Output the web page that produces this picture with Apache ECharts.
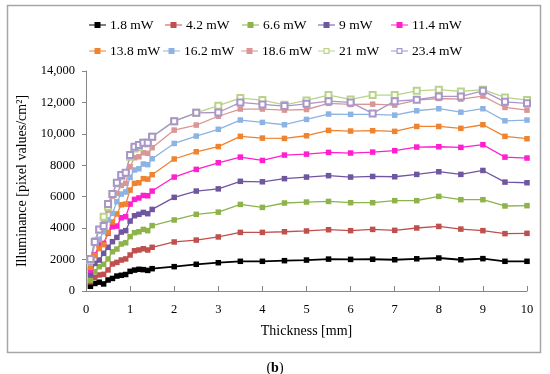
<!DOCTYPE html>
<html>
<head>
<meta charset="utf-8">
<script src="https://cdn.jsdelivr.net/npm/echarts@6/dist/echarts.min.js"></script>
<style>html,body{margin:0;padding:0;background:#fff;}#c{width:550px;height:374px;}</style>
</head>
<body>
<div id="c"></div>
<script>
// Thickness [mm]
var thickness = [0.1,0.2,0.3,0.4,0.5,0.6,0.7,0.8,0.9,1.0,1.1,1.2,1.3,1.4,1.5,
  2,2.5,3,3.5,4,4.5,5,5.5,6,6.5,7,7.5,8,8.5,9,9.5,10];
var seriesNames = ['1.8 mW','4.2 mW','6.6 mW','9 mW','11.4 mW','13.8 mW','16.2 mW','18.6 mW','21 mW','23.4 mW'];
var p1_8  = [300,480,560,450,700,800,950,1000,1050,1250,1330,1380,1360,1310,1420,1550,1700,1800,1890,1890,1930,1970,2030,2010,2020,1990,2050,2100,1990,2060,1890,1890];
var p4_2  = [590,870,1020,1060,1340,1720,1820,1970,2040,2290,2560,2610,2690,2610,2780,3120,3240,3440,3730,3730,3770,3820,3900,3840,3920,3860,4010,4110,3940,3840,3650,3670];
var p6_6  = [700,1230,1550,1700,2040,2500,2670,2990,3070,3460,3710,3770,3920,3840,4160,4520,4880,5020,5510,5320,5600,5660,5700,5620,5620,5750,5750,6020,5810,5810,5410,5430];
var p9    = [1020,1760,1970,2400,2780,3140,3410,3750,3840,4450,4790,4880,5000,4920,5190,5960,6360,6500,6980,6950,7150,7250,7340,7250,7290,7270,7420,7590,7420,7670,6930,6890];
var p11_4 = [1340,2290,2930,3030,3670,4090,4130,4660,4730,5530,5830,5920,6080,6060,6360,7250,7740,8160,8520,8310,8650,8710,8820,8780,8840,8930,9160,9180,9140,9310,8520,8460];
var p13_8 = [1500,2250,2700,2950,3710,4390,4900,5490,5530,6420,6850,6890,7150,7120,7400,8400,8860,9190,9840,9730,9710,9880,10220,10180,10200,10160,10470,10470,10350,10580,9840,9690];
var p16_2 = [1760,3030,3290,3770,4520,4940,5680,6170,6300,7230,7700,7780,8080,8040,8420,9390,9860,10290,10880,10730,10580,10920,11260,11240,11240,11190,11470,11600,11380,11600,10830,10880];
var p18_6 = [1870,3240,3880,4300,5150,6040,6210,6720,6850,7910,8480,8540,8800,8760,9120,10240,10560,11120,11580,11580,11510,11550,11940,11870,11890,11830,12150,12250,12210,12400,11680,11510];
var p21   = [1970,3140,3880,4730,5360,6170,6850,7310,7480,8540,9070,9140,9430,9390,9820,10810,11340,11790,12280,12150,11850,12130,12470,12190,12470,12470,12740,12810,12700,12810,12320,12150];
var p23_4 = [2040,3120,3920,4130,5530,6170,6890,7380,7530,8650,9180,9290,9430,9430,9820,10810,11340,11360,12000,11870,11770,11910,12080,12000,11300,12080,12170,12380,12380,12740,12040,11940];
var yTicks = [0,2000,4000,6000,8000,10000,12000,14000];

var values = [p1_8,p4_2,p6_6,p9,p11_4,p13_8,p16_2,p18_6,p21,p23_4];
var colors = ['#000000','#C0504D','#8DB34A','#7055A0','#FF1FCF','#EE8330','#8DB3E2','#DA9694','#B9D38A','#A996C9'];
var hollow = [false,false,false,false,false,false,false,false,true,true];
var FONT = 'Liberation Serif';

var ICON_FILLED = 'path://M0,2.4H17V3.6H0Z M5.5,0H11.5V6H5.5Z';
var ICON_HOLLOW = 'path://M0,2.4H5.5V3.6H0Z M11.5,2.4H17V3.6H11.5Z M5.5,0H11.5V6H5.5Z M6.7,1.2V4.8H10.3V1.2Z';

var series = values.map(function(arr, i){
  return {
    name: seriesNames[i],
    type: 'line',
    data: thickness.map(function(x, j){ return [x, arr[j]]; }),
    symbol: hollow[i] ? 'emptyRect' : 'rect',
    symbolSize: hollow[i] ? 6 : 5.5,
    lineStyle: {color: colors[i], width: i === 0 ? 1.8 : 1.3},
    itemStyle: {color: colors[i], borderWidth: hollow[i] ? 1.2 : 0},
    emphasis: {disabled: true},
    animation: false
  };
});

var colLeft = [[89,165,242,318,391],[89,163,241,318,391]];
var legends = seriesNames.map(function(n, i){
  var row = i < 5 ? 0 : 1, col = i % 5;
  return {
    data: [{name: n, icon: hollow[i] ? ICON_HOLLOW : ICON_FILLED, itemStyle: {color: colors[i], borderWidth: 0}}],
    left: colLeft[row][col], top: row === 0 ? 18 : 44,
    padding: 0, itemWidth: 17, itemHeight: 6, itemGap: 0,
    itemStyle: {borderWidth: 0},
    lineStyle: {width: 0},
    textStyle: {fontFamily: FONT, fontSize: 13.5, color: '#000', padding: [0,0,0,-1]},
    selectedMode: false
  };
});

var chart = echarts.init(document.getElementById('c'), null, {renderer: 'canvas'});
chart.setOption({
  backgroundColor: '#fff',
  animation: false,
  legend: legends,
  grid: {left: 86, right: 23, top: 71, bottom: 83},
  xAxis: {
    type: 'value', min: 0, max: 10, interval: 1,
    name: 'Thickness [mm]', nameLocation: 'middle', nameGap: 33,
    nameTextStyle: {fontFamily: FONT, fontSize: 14, color: '#000'},
    axisLine: {lineStyle: {color: '#868686', width: 1}},
    axisTick: {inside: true, length: 5, lineStyle: {color: '#868686'}},
    axisLabel: {fontFamily: FONT, fontSize: 12.5, color: '#000', margin: 12},
    splitLine: {show: false}
  },
  yAxis: {
    type: 'value', min: yTicks[0], max: yTicks[yTicks.length-1], interval: 2000,
    name: 'Illuminance [pixel values/cm²]', nameLocation: 'middle', nameGap: 46, nameRotate: 90,
    nameTextStyle: {fontFamily: FONT, fontSize: 14, color: '#000'},
    axisLine: {show: true, lineStyle: {color: '#868686', width: 1}},
    axisTick: {show: true, length: 4, lineStyle: {color: '#868686'}},
    axisLabel: {fontFamily: FONT, fontSize: 12.5, color: '#000', margin: 11,
      formatter: function(v){ return v >= 10000 ? (Math.floor(v/1000) + ',' + String(v % 1000).padStart(3,'0')) : String(v); }},
    splitLine: {show: false}
  },
  graphic: [
    {type: 'rect', shape: {x: 7.5, y: 5.5, width: 533, height: 347}, style: {fill: 'none', stroke: '#A6A6A6', lineWidth: 1.5}, z: -10},
    {type: 'text', left: 'center', top: 361, style: {
      text: '({b|b})', font: '14px "Liberation Serif"', fill: '#000',
      rich: {b: {fontFamily: FONT, fontSize: 14, fontWeight: 'bold', fill: '#000'}}
    }}
  ],
  series: series
});
</script>
</body>
</html>
